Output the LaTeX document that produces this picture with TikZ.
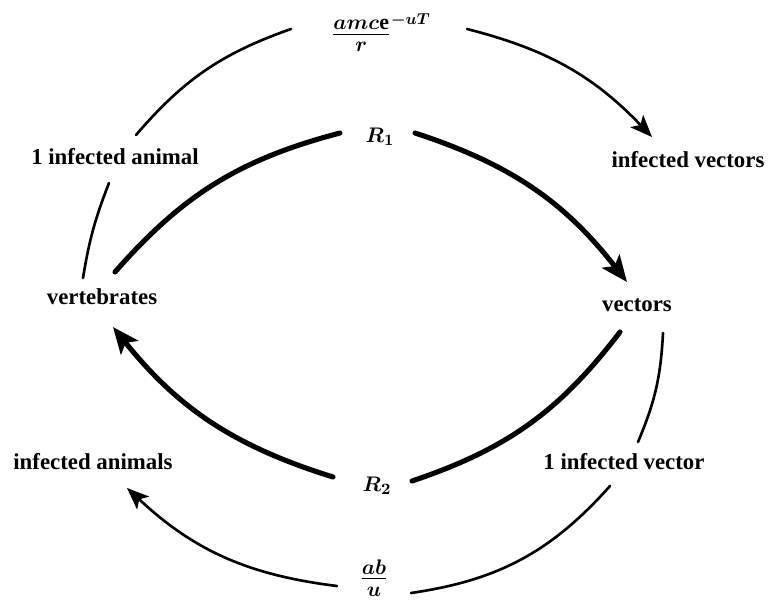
\documentclass[tikz,border=0pt]{standalone}
\usepackage{fontspec}
\setmainfont{Liberation Serif}
\usetikzlibrary{arrows.meta}
\begin{document}
\begin{tikzpicture}[x=0.02cm,y=-0.02cm,
  lbl/.style={font=\fontsize{13}{15}\selectfont\bfseries, inner sep=0pt},
  mth/.style={font=\fontsize{12.5}{15}\selectfont\mathversion{bold}, inner sep=0pt},
  outerarc/.style={line width=1.5pt, line cap=round},
  innerarc/.style={line width=2.9pt, line cap=round},
  otip/.style={-{Stealth[length=12.5pt,width=10pt,inset=3pt]}},
  itip/.style={-{Stealth[length=15pt,width=12.5pt,inset=3.5pt]}}]
\useasboundingbox (0,0) rectangle (769,602);
% labels
\node[lbl] (anim1) at (115,157) {1 infected animal};
\node[lbl] (vert) at (102,297) {vertebrates};
\node[lbl] (infan) at (93,462) {infected animals};
\node[lbl] (infvec) at (688,160) {infected vectors};
\node[lbl] (vec) at (637,305) {vectors};
\node[lbl] (vec1) at (624,462) {1 infected vector};
\node[mth] (r1) at (380,137) {$R_1$};
\node[mth] (r2) at (377,486) {$R_2$};
\node[mth] (topfrac) at (381,33) {${\frac{\textstyle amc\mathrm{e}\rule[-2pt]{0pt}{2pt}}{\textstyle r\rule{0pt}{9.5pt}}}^{-uT}$};
\node[mth] (botfrac) at (374,578) {$\frac{\textstyle ab\rule[-2pt]{0pt}{2pt}}{\textstyle u\rule{0pt}{9.5pt}}$};
% arc end points
\coordinate (a1s) at (136,135);
\coordinate (a1e) at (291,29);
\coordinate (a2s) at (467,29);
\coordinate (a2e) at (652,137);
\coordinate (a3s) at (83,278);
\coordinate (a3e) at (109,183);
\coordinate (a4s) at (663,333);
\coordinate (a4e) at (638,442);
\coordinate (a5s) at (610,486);
\coordinate (a5e) at (411,593);
\coordinate (a6s) at (337,586);
\coordinate (a6e) at (127,488);
\coordinate (t1s) at (115,272);
\coordinate (t1e) at (340,133);
\coordinate (t2s) at (415,133);
\coordinate (t2e) at (627,282);
\coordinate (t3s) at (620,332);
\coordinate (t3e) at (412,481);
\coordinate (t4s) at (333,477);
\coordinate (t4e) at (113,327);
% outer cycle
\draw[outerarc] (a1s) to[bend left=15] (a1e);
\draw[outerarc,otip] (a2s) to[bend left=16] (a2e);
\draw[outerarc] (a3s) to[bend left=6] (a3e);
\draw[outerarc] (a4s) to[bend left=10] (a4e);
\draw[outerarc] (a5s) to[bend left=20] (a5e);
\draw[outerarc,otip] (a6s) to[bend left=18] (a6e);
% inner cycle
\draw[innerarc] (t1s) to[bend left=17] (t1e);
\draw[innerarc,itip] (t2s) to[bend left=17] (t2e);
\draw[innerarc] (t3s) to[bend left=17] (t3e);
\draw[innerarc,itip] (t4s) to[bend left=17] (t4e);
\end{tikzpicture}
\end{document}
